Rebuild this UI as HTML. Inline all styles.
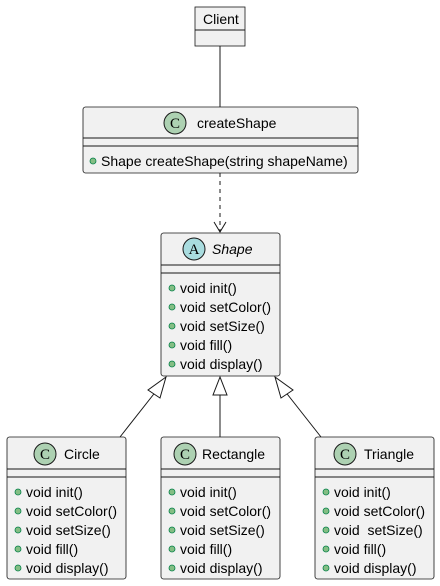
<!DOCTYPE html>
<html><head><meta charset="utf-8"><style>
html,body{margin:0;padding:0;background:#fff;}
svg{display:block;}
text{font-family:"Liberation Sans",sans-serif;fill:#000;}
.t{font-size:14px;}
.m{font-size:14px;}
.box{fill:#F1F1F1;stroke:#181818;stroke-width:0.8;}
.ln{stroke:#181818;stroke-width:1;}
.dot{fill:#84BE84;stroke:#038048;stroke-width:0.8;}
.ic{font-family:"Liberation Serif",serif;font-size:15px;}
</style></head><body>
<svg width="440" height="586" viewBox="0 0 440 586" xmlns="http://www.w3.org/2000/svg">
<rect class="box" x="195" y="7" width="50" height="39"/>
<line class="ln" x1="195" y1="30" x2="245" y2="30"/>
<text class="t" x="203" y="24">Client</text>
<line class="ln" x1="220" y1="46" x2="220" y2="107"/>

<rect class="box" x="83" y="107" width="275" height="66" rx="2.5"/>
<line class="ln" x1="83" y1="138" x2="358" y2="138"/>
<line class="ln" x1="83" y1="146" x2="358" y2="146"/>
<circle cx="175" cy="123" r="11" fill="#ADD1B2" stroke="#181818" stroke-width="1"/>
<text class="ic" x="175" y="128" text-anchor="middle">C</text>
<text class="t" x="197" y="128">createShape</text>
<circle class="dot" cx="93" cy="161" r="3"/>
<text class="m" x="101" y="166">Shape createShape(string shapeName)</text>

<line class="ln" x1="220" y1="173" x2="220" y2="231" stroke-dasharray="4,4"/>
<polyline points="214,222 220,232 226,222" fill="none" stroke="#181818" stroke-width="1"/>

<rect class="box" x="161" y="233" width="119" height="143" rx="2.5"/>
<line class="ln" x1="161" y1="265" x2="280" y2="265"/>
<line class="ln" x1="161" y1="273" x2="280" y2="273"/>
<circle cx="194" cy="249" r="11" fill="#A9DCDF" stroke="#181818" stroke-width="1"/>
<text class="ic" x="194" y="254" text-anchor="middle">A</text>
<text class="t" x="212" y="254" font-style="italic">Shape</text>
<circle class="dot" cx="172" cy="288" r="3"/><text class="m" x="180" y="293">void init()</text>
<circle class="dot" cx="172" cy="307" r="3"/><text class="m" x="180" y="312">void setColor()</text>
<circle class="dot" cx="172" cy="326" r="3"/><text class="m" x="180" y="331">void setSize()</text>
<circle class="dot" cx="172" cy="345" r="3"/><text class="m" x="180" y="350">void fill()</text>
<circle class="dot" cx="172" cy="364" r="3"/><text class="m" x="180" y="369">void display()</text>

<line class="ln" x1="120" y1="437" x2="157" y2="390"/>
<polygon points="166,377 148,390 160,398" fill="#fff" stroke="#181818" stroke-width="1"/>
<line class="ln" x1="220" y1="437" x2="220" y2="395"/>
<polygon points="220,377 213,395 227,395" fill="#fff" stroke="#181818" stroke-width="1"/>
<line class="ln" x1="321" y1="437" x2="284" y2="390"/>
<polygon points="275,377 281,398 293,390" fill="#fff" stroke="#181818" stroke-width="1"/>

<rect class="box" x="7" y="437" width="119" height="142" rx="2.5"/>
<line class="ln" x1="7" y1="469" x2="126" y2="469"/>
<line class="ln" x1="7" y1="477" x2="126" y2="477"/>
<circle cx="45" cy="454" r="11" fill="#ADD1B2" stroke="#181818" stroke-width="1"/>
<text class="ic" x="45" y="459" text-anchor="middle">C</text>
<text class="t" x="64" y="459">Circle</text>
<circle class="dot" cx="18" cy="492" r="3"/><text class="m" x="26" y="497">void init()</text>
<circle class="dot" cx="18" cy="511" r="3"/><text class="m" x="26" y="516">void setColor()</text>
<circle class="dot" cx="18" cy="530" r="3"/><text class="m" x="26" y="535">void setSize()</text>
<circle class="dot" cx="18" cy="549" r="3"/><text class="m" x="26" y="554">void fill()</text>
<circle class="dot" cx="18" cy="568" r="3"/><text class="m" x="26" y="573">void display()</text>

<rect class="box" x="161" y="437" width="119" height="142" rx="2.5"/>
<line class="ln" x1="161" y1="469" x2="280" y2="469"/>
<line class="ln" x1="161" y1="477" x2="280" y2="477"/>
<circle cx="185" cy="454" r="11" fill="#ADD1B2" stroke="#181818" stroke-width="1"/>
<text class="ic" x="185" y="459" text-anchor="middle">C</text>
<text class="t" x="202" y="459">Rectangle</text>
<circle class="dot" cx="172" cy="492" r="3"/><text class="m" x="180" y="497">void init()</text>
<circle class="dot" cx="172" cy="511" r="3"/><text class="m" x="180" y="516">void setColor()</text>
<circle class="dot" cx="172" cy="530" r="3"/><text class="m" x="180" y="535">void setSize()</text>
<circle class="dot" cx="172" cy="549" r="3"/><text class="m" x="180" y="554">void fill()</text>
<circle class="dot" cx="172" cy="568" r="3"/><text class="m" x="180" y="573">void display()</text>

<rect class="box" x="315" y="437" width="119" height="142" rx="2.5"/>
<line class="ln" x1="315" y1="469" x2="434" y2="469"/>
<line class="ln" x1="315" y1="477" x2="434" y2="477"/>
<circle cx="345" cy="454" r="11" fill="#ADD1B2" stroke="#181818" stroke-width="1"/>
<text class="ic" x="345" y="459" text-anchor="middle">C</text>
<text class="t" x="364" y="459">Triangle</text>
<circle class="dot" cx="326" cy="492" r="3"/><text class="m" x="334" y="497">void init()</text>
<circle class="dot" cx="326" cy="511" r="3"/><text class="m" x="334" y="516">void setColor()</text>
<circle class="dot" cx="326" cy="530" r="3"/><text class="m" x="334" y="535" xml:space="preserve">void  setSize()</text>
<circle class="dot" cx="326" cy="549" r="3"/><text class="m" x="334" y="554">void fill()</text>
<circle class="dot" cx="326" cy="568" r="3"/><text class="m" x="334" y="573">void display()</text>
</svg>
</body></html>
